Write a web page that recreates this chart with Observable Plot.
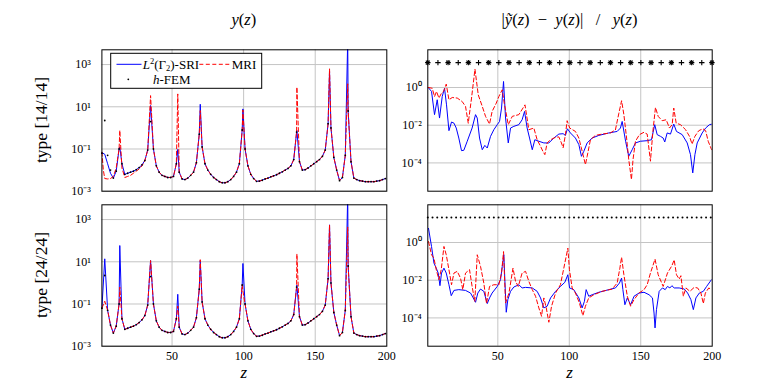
<!DOCTYPE html>
<html><head><meta charset="utf-8">
<script src="https://cdn.jsdelivr.net/npm/d3@7"></script>
<script src="https://cdn.jsdelivr.net/npm/@observablehq/plot@0.6"></script>
<style>
html,body{margin:0;padding:0;background:#fff;}
#root{position:relative;width:771px;height:383px;overflow:hidden;}
#root svg{position:absolute;left:0;top:0;}
</style></head><body><div id="root"></div>
<script>
// ---- data: y(z) reference (h-FEM), log10 values on grid z ----
const zGrid = [1,3,5,7,9,11,13,15,17,19,21,23,25,27,29,31,33,35,37,39,41,43,45,47,49,51,53,55,57,59,61,63,65,67,69,71,73,75,77,79,81,83,85,87,89,91,93,95,97,99,101,103,105,107,109,111,113,115,117,119,121,123,125,127,129,131,133,135,137,139,141,143,145,147,149,151,153,155,157,159,161,163,165,167,169,171,173,175,177,179,181,183,185,187,189,191,193,195,197,199];
const hfemLog = [
 -1.2, 0.35, -1.3, -2.0, -2.38, -2.05, -1.0, -1.7, -2.2, -2.15,
 -2.1, -2.05, -1.98, -1.88, -1.75, -1.55, -1.05, 0.3, -1.0, -1.8,
 -2.1, -2.25, -2.3, -2.35, -2.35, -2.3, -1.7, -2.1, -2.42, -2.45,
 -2.38, -2.25, -2.1, -1.65, -0.3, -0.9, -1.7, -2.0, -2.2, -2.35,
 -2.45, -2.55, -2.6, -2.6, -2.55, -2.45, -2.3, -2.1, -1.7, -0.1,
 -1.0, -1.8, -2.2, -2.4, -2.53, -2.52, -2.48, -2.42, -2.38, -2.32,
 -2.27, -2.22, -2.15, -2.08, -2.0, -1.92, -1.8, -1.5, -0.2, -1.6,
 -2.0, -1.98, -1.9, -1.8, -1.7, -1.6, -1.5, -1.35, -1.05, 0.2,
 0.0, -1.4, -2.0, -2.5, -2.35, -1.3, 0.8, -1.6, -2.38, -2.45,
 -2.5, -2.52, -2.55, -2.55, -2.55, -2.55, -2.52, -2.5, -2.45, -2.4];

// series deviations from the reference curve: [z, log10 y]
const sriTopEdits = [[1,-1.17],[3,-1.25],[5,-1.7],[7,-2.15],[9,-2.38],[11,-2.05],[13.5,-0.91],[35,1.06],[54,-1.02],[69.7,1.12],[99.5,0.9],[137.2,-0.12],[160,2.7],[172.7,4.2]];
const mriTopEdits = [[1,-1.15],[2,-2.0],[3,-2.4],[5,-2.42],[7,-2.4],[9,-2.3],[11,-1.9],[13.5,-0.12],[15,-1.9],[17,-2.35],[19,-2.3],[21,-2.25],[23,-2.15],[25,-2.05],[27,-1.95],[29,-1.8],[35,1.53],[54,1.61],[69.7,0.82],[99.5,0.85],[137.2,1.93],[160,2.8],[172.7,2.09]];
const sriBotEdits = [[3,1.14],[13.5,1.77],[35,1.06],[54,-0.54],[69.7,1.06],[99.5,0.92],[137.2,-0.1],[160,2.75],[172.7,4.2]];
const mriBotEdits = [[3,-0.87],[13.5,-0.2],[35,1.06],[54,-1.1],[69.7,1.1],[99.5,-0.4],[137.2,1.37],[160,2.75],[172.7,2.65]];

// relative errors: [z, log10 err]
const errTopSri = [[1.3,0],[3.6,-0.21],[5.7,-1.44],[7.6,-0.65],[9.2,-1.62],[11.1,-0.48],[12.7,-0.04],[14.1,-0.92],[15.8,-2.29],[17.6,-1.83],[19.3,-1.89],[20.9,-2.15],[22.7,-2.68],[24.6,-3.35],[26.2,-3.33],[28.6,-2.85],[32,-2.15],[34.4,-1.44],[35.6,-1.62],[37.2,-2.68],[39.1,-3.3],[40.9,-3.07],[42.6,-3.21],[44.9,-2.59],[47.2,-2.24],[49.6,-1.97],[51.2,-1.8],[52.6,-1.09],[54,0.32],[55.4,-1.62],[57.3,-2.94],[58.9,-2.15],[61.2,-2.06],[64.7,-1.97],[67,-1.71],[68.7,-1.27],[70.5,-2.15],[72.2,-2.68],[74.1,-3.3],[75.9,-2.77],[78.7,-2.85],[82.2,-2.94],[85.7,-2.94],[89.2,-2.68],[92.7,-2.47],[95.7,-2.45],[97.3,-2.54],[98.7,-2.19],[100.8,-2.41],[104.3,-2.68],[106.7,-3.03],[108.5,-3.65],[110.2,-3.38],[112.5,-2.94],[116,-2.68],[120.7,-2.54],[127.7,-2.41],[133.5,-2.33],[135.8,-2.15],[137,-1.8],[139.4,-2.85],[141.6,-3.65],[144,-3.3],[146.3,-2.94],[149.8,-2.85],[154.5,-2.82],[157.5,-2.77],[159.8,-1.97],[161.5,-2.5],[163.8,-2.59],[165.7,-2.68],[166.8,-2.89],[168.5,-2.41],[170.8,-2.47],[173.1,-1.94],[175,-2.33],[179,-2.5],[182.5,-2.94],[184.8,-3.56],[186.4,-4.53],[187.9,-3.56],[189.5,-2.94],[193,-2.41],[195.4,-2.15],[198.1,-1.97],[200,-1.94]];
const errTopMri = [[1.3,0],[4.1,-0.04],[5.7,-0.48],[7.1,-0.21],[8.8,-0.56],[10.6,-0.3],[12.3,-0.18],[13.9,0.18],[15.8,-0.65],[18.1,-0.53],[21.6,-0.56],[25,-0.74],[27.4,-1.0],[29.3,-1.89],[31.6,-0.56],[34,0.97],[36.3,-0.39],[39.1,-1.0],[41.4,-1.53],[44.2,-1.94],[46,-1.27],[48.9,-0.83],[50.7,-0.48],[53.1,-0.12],[54.5,-0.83],[57.3,-1.97],[60.1,-1.53],[64.7,-1.44],[69,-0.92],[71.7,-2.24],[75.2,-2.15],[77.5,-2.77],[79.9,-3.12],[81.5,-3.38],[82.9,-3.56],[84.5,-2.94],[86.9,-2.77],[90.4,-2.64],[92.7,-2.62],[94.5,-2.94],[95.7,-3.2],[97.3,-2.5],[98.5,-1.76],[100.3,-2.15],[104.3,-2.33],[106.7,-2.68],[109,-3.38],[111.3,-4.09],[112.5,-3.65],[114.8,-2.77],[118.3,-2.54],[123,-2.47],[128.8,-2.41],[132.3,-2.24],[134.7,-1.36],[136.6,-0.7],[138.2,-1.44],[140.1,-2.68],[141.6,-3.82],[143.5,-4.88],[144.6,-3.82],[146.3,-2.85],[149.1,-2.5],[152.1,-2.38],[154.5,-2.47],[156.8,-3.91],[158.5,-2.33],[160.3,-1.06],[162.2,-1.53],[165,-1.76],[167.8,-1.71],[170.1,-2.15],[172,-1.97],[173.1,-1.09],[174.8,-1.89],[177.8,-1.97],[181.4,-2.24],[184.1,-2.59],[185.9,-3.0],[187.9,-2.59],[190.6,-2.29],[193.5,-2.19],[195.4,-2.29],[197.2,-2.85],[199.6,-3.3]];
const errBotSri = [[1.5,0.75],[3.6,-0.21],[5.3,-1.09],[6.9,-1.36],[8.3,-1.62],[9.5,-2.29],[10.6,-1.62],[12.3,-1.36],[13.9,-1.62],[15.8,-2.24],[17.4,-2.82],[19.3,-2.54],[22.7,-2.5],[27.4,-2.54],[30.9,-2.68],[32.8,-2.94],[34.4,-3.17],[36,-2.68],[37.9,-2.47],[40.2,-2.59],[42.6,-3.24],[44.2,-2.94],[46,-2.68],[49.6,-2.33],[51.9,-1.97],[53.1,-1.27],[54.2,-0.65],[54.9,-1.97],[55.9,-3.7],[57,-3.03],[58.9,-2.59],[61.2,-2.36],[64.7,-2.24],[67,-2.41],[69.4,-2.38],[74.1,-2.41],[77.5,-2.59],[79.9,-2.94],[82.2,-3.47],[84.5,-3.38],[86.9,-2.94],[90.4,-2.59],[93.8,-2.33],[96.9,-2.11],[99,-1.71],[100.2,-2.41],[103.1,-2.5],[106.7,-2.94],[109,-3.47],[110.6,-3.12],[111.8,-2.5],[113.6,-2.85],[116,-2.77],[120.7,-2.64],[127.7,-2.5],[132.3,-2.41],[135.1,-2.15],[136.6,-1.89],[137.5,-2.5],[138.9,-3.3],[140.6,-2.94],[142.9,-3.3],[145.3,-2.85],[148.8,-2.68],[152.3,-2.64],[155.8,-2.77],[158.2,-2.94],[159.3,-3.74],[160,-4.53],[161,-3.56],[162.9,-2.59],[165.2,-2.41],[167.1,-2.5],[168.7,-2.33],[170.4,-2.41],[171.8,-2.29],[173.4,-2.41],[176.9,-2.41],[180.5,-2.47],[182.8,-2.68],[185.1,-3.03],[186.8,-3.56],[188.6,-2.94],[191,-2.68],[193.8,-2.59],[196.1,-2.33],[199.5,-1.97]];
const errBotMri = [[1.5,0.05],[3.6,-0.65],[5.3,-0.83],[6.9,-1.44],[8.8,-1.97],[10.4,-1.44],[12.3,-0.21],[13.9,-0.65],[15.8,-1.44],[17.6,-2.24],[19.3,-1.62],[21.6,-1.53],[23.9,-1.89],[25.5,-2.5],[27.4,-1.62],[30.2,-1.44],[32,-2.33],[33.9,-3.12],[35.6,-0.65],[37.9,-1.27],[40.2,-2.15],[42.1,-3.24],[44.2,-2.33],[47.2,-2.24],[50.7,-2.24],[52.6,-1.62],[54,-0.48],[55.4,-3.21],[57.8,-2.68],[60.6,-1.36],[62.4,-2.06],[64.3,-2.33],[67,-1.62],[69.4,-1.53],[71.7,-2.06],[74.1,-2.5],[76.4,-2.85],[78.7,-3.47],[80.6,-3.91],[82.2,-2.94],[83.9,-3.47],[85.7,-4.23],[87.6,-3.38],[90.4,-2.68],[93.8,-2.24],[96.9,-1.09],[99,-0.3],[100.1,-1.44],[102,-2.41],[104.3,-2.68],[107.1,-3.21],[109.5,-3.88],[111.3,-3.38],[113.6,-2.94],[117.2,-2.77],[123,-2.59],[130,-2.47],[133.5,-2.15],[135.4,-1.36],[136.6,-0.78],[138.2,-1.71],[140.6,-2.85],[142.9,-3.38],[145.3,-3.03],[148.8,-2.68],[152.3,-2.5],[154.5,-2.24],[156.8,-1.62],[160,-0.88],[162.2,-1.71],[165.7,-2.33],[168.7,-1.62],[171.8,-1.23],[173.4,-0.92],[175,-1.71],[176.9,-1.94],[178.1,-1.76],[179.8,-2.85],[181.6,-2.41],[184.4,-2.59],[187.4,-2.38],[189.8,-2.41],[192.1,-2.68],[193.8,-3.24],[195.2,-2.68],[197.6,-2.41],[199.5,-2.5]];

// marker rows in the error panels
const markerLog = 1.32;
const starZ = [1,15.2,29.4,43.6,57.8,72,86.2,100.4,114.6,128.8,143,157.2,171.4,185.6,199.8];
const plusZ = [8.1,22.3,36.5,50.7,64.9,79.1,93.3,107.5,121.7,135.9,150.1,164.3,178.5,192.7];
const dotRowZ = [1,4.3,7.6,10.9,14.2,17.5,20.8,24.1,27.4,30.7,34,37.3,40.6,43.9,47.2,50.5,53.8,57.1,60.4,63.7,67,70.3,73.6,76.9,80.2,83.5,86.8,90.1,93.4,96.7,100,103.3,106.6,109.9,113.2,116.5,119.8,123.1,126.4,129.7,133,136.3,139.6,142.9,146.2,149.5,152.8,156.1,159.4,162.7,166,169.3,172.6,175.9,179.2,182.5,185.8,189.1,192.4,195.7,199];

// ticks
const xTicks = [50,100,150,200];
const xGrid = [50,100,150];
const yTicksLeft = [1e-3,1e-1,1e1,1e3];
const yTicksRight = [1e-4,1e-2,1];
const yDomLeft = [1e-3, Math.pow(10,3.7)];
const yDomRight = [Math.pow(10,-5.5), 100];

// ---- helpers ----
const supMap = {"-":"\u207B","0":"\u2070","1":"\u00B9","2":"\u00B2","3":"\u00B3","4":"\u2074"};
const fmtPow = d => "10" + String(Math.round(Math.log10(d))).split("").map(c => supMap[c]).join("");
const toPts = arr => arr.map(([z,v]) => ({z, y: Math.pow(10, v)}));
function curve(edits){
  const m = new Map(zGrid.map((z,i) => [z, hfemLog[i]]));
  for (const [z,v] of edits) m.set(z, v);
  return Array.from(m, ([z,v]) => ({z, y: Math.pow(10, v)})).sort((a,b) => a.z - b.z);
}
const hfemPts = zGrid.map((z,i) => ({z, y: Math.pow(10, hfemLog[i])}));
const lvl = Math.pow(10, markerLog);
const rowPts = zs => zs.map(z => ({z, y: lvl}));

const W = 771, H = 383;
function panel({x0, x1, y0, y1, yDomain, yTicks, showX, tickPad, marks}) {
  const svg = Plot.plot({
    width: W, height: H,
    marginLeft: x0, marginRight: W - x1, marginTop: y0, marginBottom: H - y1,
    style: {background: "transparent", fontFamily: "'Liberation Serif', serif", fontSize: "12px", color: "black", overflow: "visible"},
    x: {domain: [1, 200], ticks: xTicks, tickSize: 0, tickPadding: 5, axis: showX ? "bottom" : null, label: null},
    y: {type: "log", domain: yDomain, ticks: yTicks, tickFormat: fmtPow, tickSize: 0, tickPadding: tickPad, label: null},
    marks: [
      Plot.ruleX(xGrid, {stroke: "#c4c4c4", strokeWidth: 1}),
      Plot.ruleY(yTicks, {stroke: "#c4c4c4", strokeWidth: 1}),
      ...marks,
      Plot.frame({stroke: "black", strokeWidth: 1})
    ]
  });
  d3.select(svg).selectAll("text").attr("font-size", 12);
  d3.select(svg).selectAll("g").filter(function(){ return this.getAttribute("font-size"); }).attr("font-size", 12);
  return svg;
}
const blue = "#0000ff", red = "#ff0000", dash = "4,2.5";
const leftMarks = (sri, mri) => [
  Plot.line(curve(sri), {x: "z", y: "y", stroke: blue, strokeWidth: 1, clip: true}),
  Plot.line(curve(mri), {x: "z", y: "y", stroke: red, strokeWidth: 1, strokeDasharray: dash, clip: true}),
  Plot.dot(hfemPts, {x: "z", y: "y", r: 0.9, fill: "black", stroke: null})
];
const rightLines = (sri, mri) => [
  Plot.line(toPts(sri), {x: "z", y: "y", stroke: blue, strokeWidth: 1, clip: true}),
  Plot.line(toPts(mri), {x: "z", y: "y", stroke: red, strokeWidth: 1, strokeDasharray: dash, clip: true})
];

const L = {x0: 101.4, x1: 386.3}, R = {x0: 427.3, x1: 711.7};
const T = {y0: 49.3, y1: 190.7}, B = {y0: 204.3, y1: 345.7};
const root = document.getElementById("root");

root.append(panel({...L, ...T, yDomain: yDomLeft, yTicks: yTicksLeft, showX: false, tickPad: 11,
  marks: leftMarks(sriTopEdits, mriTopEdits)}));
root.append(panel({...L, ...B, yDomain: yDomLeft, yTicks: yTicksLeft, showX: true, tickPad: 11,
  marks: leftMarks(sriBotEdits, mriBotEdits)}));
root.append(panel({...R, ...T, yDomain: yDomRight, yTicks: yTicksRight, showX: false, tickPad: 6,
  marks: [
    ...rightLines(errTopSri, errTopMri),
    Plot.dot(rowPts(starZ), {x: "z", y: "y", symbol: "plus", r: 1.9, stroke: "black", strokeWidth: 1.1}),
    Plot.dot(rowPts(starZ), {x: "z", y: "y", symbol: "times", r: 1.9, stroke: "black", strokeWidth: 1.1}),
    Plot.dot(rowPts(plusZ), {x: "z", y: "y", symbol: "plus", r: 1.9, stroke: "black", strokeWidth: 1.1})
  ]}));
root.append(panel({...R, ...B, yDomain: yDomRight, yTicks: yTicksRight, showX: true, tickPad: 6,
  marks: [
    ...rightLines(errBotSri, errBotMri),
    Plot.dot(rowPts(dotRowZ), {x: "z", y: "y", r: 1, fill: "black", stroke: null})
  ]}));

// ---- titles, axis labels, legend ----
const ns = "http://www.w3.org/2000/svg";
const ov = document.createElementNS(ns, "svg");
ov.setAttribute("width", W); ov.setAttribute("height", H);
ov.setAttribute("font-family", "'Liberation Serif', serif");
ov.innerHTML = `
 <text x="243.8" y="25" text-anchor="middle" font-size="16.5"><tspan font-style="italic">y</tspan>(<tspan font-style="italic">z</tspan>)</text>
 <text x="569.5" y="25" text-anchor="middle" font-size="16.5" xml:space="preserve">|<tspan font-style="italic">ỹ</tspan>(<tspan font-style="italic">z</tspan>)  −  <tspan font-style="italic">y</tspan>(<tspan font-style="italic">z</tspan>)|   /   <tspan font-style="italic">y</tspan>(<tspan font-style="italic">z</tspan>)</text>
 <text transform="translate(47,120) rotate(-90)" text-anchor="middle" font-size="17.5">type [14/14]</text>
 <text transform="translate(47,275) rotate(-90)" text-anchor="middle" font-size="17.5">type [24/24]</text>
 <text x="243.8" y="378" text-anchor="middle" font-size="17" font-style="italic">z</text>
 <text x="569.5" y="378" text-anchor="middle" font-size="17" font-style="italic">z</text>
 <rect x="110.7" y="53.3" width="151" height="35" fill="white" stroke="black" stroke-width="1"/>
 <line x1="116.5" x2="141.5" y1="64.3" y2="64.3" stroke="${blue}" stroke-width="1"/>
 <text x="142.7" y="68.6" font-size="13"><tspan font-style="italic">L</tspan><tspan font-size="8.5" dy="-5">2</tspan><tspan dy="5">(Γ</tspan><tspan font-size="8.5" dy="2.5">2</tspan><tspan dy="-2.5">)-SRI</tspan></text>
 <line x1="199.3" x2="230" y1="64.3" y2="64.3" stroke="${red}" stroke-width="1" stroke-dasharray="${dash}"/>
 <text x="231.7" y="68.6" font-size="13">MRI</text>
 <circle cx="128.3" cy="79.3" r="0.9" fill="black"/>
 <text x="171.7" y="83.6" text-anchor="middle" font-size="13"><tspan font-style="italic">h</tspan>-FEM</text>
`;
root.append(ov);
</script></body></html>
